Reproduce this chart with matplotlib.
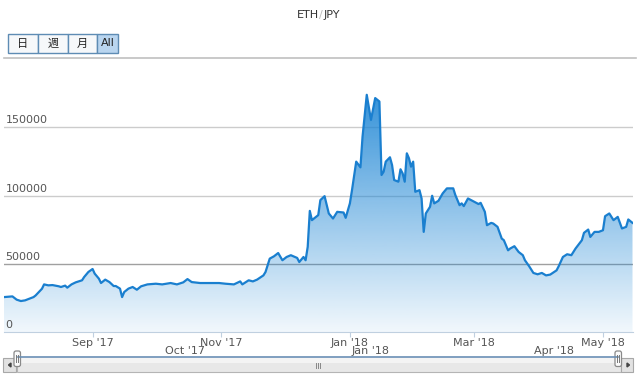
import matplotlib
matplotlib.use("Agg")
import matplotlib.pyplot as plt
import matplotlib.dates as mdates
from matplotlib.patches import Rectangle, FancyBboxPatch, Polygon
import numpy as np

# days since 2017-07-21 and ETH/JPY close
day = [0, 4, 6, 8, 10, 12, 14, 15, 18, 19, 21, 23, 26, 27, 29, 30, 32, 34, 37, 38,
       40, 42, 43, 45, 46, 48, 50, 52, 53, 55, 56, 57, 59, 61, 63, 65, 68, 72, 75, 79,
       82, 85, 87, 89, 93, 98, 102, 105, 109, 112, 113, 116, 118, 120, 123, 124, 126, 128, 130, 132,
       134, 136, 139, 140, 142, 143, 144, 145, 146, 149, 150, 152, 154, 156, 158, 161, 162, 164, 165, 167,
       169, 170, 172, 174, 176, 178, 179, 180, 181, 183, 184, 185, 187, 188, 189, 190, 191, 192, 193, 194,
       195, 197, 198, 199, 200, 202, 203, 204, 206, 208, 210, 213, 214, 216, 217, 218, 220, 223, 225, 226,
       228, 229, 231, 232, 234, 236, 237, 239, 240, 242, 244, 246, 247, 249, 251, 253, 255, 257, 259, 262,
       263, 265, 267, 269, 271, 274, 275, 277, 278, 280, 282, 284, 285, 287, 289, 291, 293, 295, 296, 298]
price = [25600, 26100, 23700, 22700, 23200, 24400, 25600, 26800, 31700, 34900, 34200, 34400, 33500, 33000, 34000, 32500, 34900, 36400, 37900, 40300,
         44000, 46200, 42800, 39100, 35900, 38400, 36600, 33700, 33700, 31800, 25600, 29300, 31800, 33000, 31000, 33500, 34900, 35400, 34900, 35900,
         34900, 36400, 38800, 36600, 35900, 35900, 35900, 35400, 34900, 37100, 34900, 37900, 37100, 38400, 41500, 44000, 53800, 55500, 57900, 52600,
         55000, 56300, 54300, 51300, 55000, 52600, 62400, 88800, 82000, 85700, 96700, 99600, 86900, 83200, 88100, 87600, 83700, 94300, 104000, 124900,
         120700, 143200, 173900, 155500, 171500, 169000, 115100, 117500, 124900, 128100, 122400, 111400, 110200, 119300, 116300, 110200, 131000, 127400, 121200, 124900,
         102800, 104000, 97900, 73400, 86900, 91800, 99900, 94300, 96200, 101600, 105300, 105300, 100400, 93000, 94300, 92300, 97900, 95400, 93800, 94700,
         88100, 78300, 80000, 79500, 77100, 68500, 67300, 59900, 61200, 62900, 58700, 56300, 52600, 48200, 43300, 42300, 43300, 41500, 42100, 45200,
         48200, 55000, 57000, 56300, 61200, 67300, 72700, 75100, 69700, 73400, 73400, 74600, 84900, 86900, 82000, 84400, 75900, 77100, 82500, 80000]

start = np.datetime64("2017-07-21")
dates = start + np.array(day).astype("timedelta64[D]")
y_ticks = [0, 50000, 100000, 150000]
y_max = 200000
buttons = ["日", "週", "月", "All"]
title = ["ETH", "/", "JPY"]

W, H = 640, 382
fig = plt.figure(figsize=(W / 100, H / 100), dpi=100)
fig.patch.set_facecolor("white")

# main plot
ax = fig.add_axes([4 / W, (H - 332) / H, 628.5 / W, 272.8 / H])
ax.set_facecolor("none")
for s in ["top", "left", "right"]:
    ax.spines[s].set_visible(False)
ax.spines["bottom"].set_color("#c0d0e0")
ax.set_yticks([])

for v in y_ticks[1:]:
    ax.axhline(v, color="#a0a0a0" if v == 50000 else "#cccccc", lw=1.0, zorder=0)
for v in y_ticks:
    ax.annotate(str(v), xy=(0, v), xycoords=("axes fraction", "data"),
                xytext=(1, 1.5), textcoords="offset points", ha="left", va="bottom",
                fontsize=8, color="#555555")

x0 = mdates.date2num(dates[0])
x1 = mdates.date2num(dates[-1])
poly = ax.fill_between(dates, price, 0, color="none", lw=0)
cmap_rgb = np.array([0x1a, 0x84, 0xd4]) / 255
alpha = np.linspace(0.06, 1.0, 256)[:, None]
grad = np.zeros((256, 1, 4))
grad[..., :3] = cmap_rgb
grad[..., 3] = alpha
img = ax.imshow(grad, extent=[x0, x1, 0, y_max], aspect="auto", origin="lower", zorder=1)
img.set_clip_path(poly.get_paths()[0], transform=ax.transData)
ax.plot(dates, price, color="#1a7fcf", lw=1.6, zorder=2, solid_joinstyle="round")

ax.set_xlim(x0, x1)
ax.set_ylim(0, y_max)
ax.xaxis.set_major_locator(mdates.MonthLocator(bymonth=[1, 3, 5, 7, 9, 11]))
ax.xaxis.set_major_formatter(mdates.DateFormatter("%b '%y"))
ax.tick_params(axis="x", direction="out", length=3.6, color="#c0d0e0", pad=1,
               labelsize=8, labelcolor="#555555")

# navigator axis labels
nav = fig.add_axes([17 / W, (H - 357) / H, 603 / W, 0.5 / H])
nav.set_xlim(x0, x1)
nav.axis("off")
nav_ticks = mdates.MonthLocator(bymonth=[1, 4, 7, 10]).tick_values(
    mdates.num2date(x0), mdates.num2date(x1))
for t in nav_ticks:
    if x0 <= t <= x1:
        nav.annotate(mdates.num2date(t).strftime("%b '%y"), xy=(t, 1),
                     xycoords=("data", "axes fraction"), xytext=(2, 0.5),
                     textcoords="offset points", ha="left", va="bottom",
                     fontsize=8, color="#555555")

# overlay in pixel units for title, buttons, scrollbar
ov = fig.add_axes([0, 0, 1, 1])
ov.set_xlim(0, W)
ov.set_ylim(H, 0)
ov.axis("off")

ov.text(318.5, 15, title[0], ha="right", va="center", fontsize=8, color="#333333")
ov.text(321, 15, title[1], ha="center", va="center", fontsize=8, color="#bbbbbb")
ov.text(323.5, 15, title[2], ha="left", va="center", fontsize=8, color="#333333")

edges = [8, 38, 68, 97, 118]
for i, b in enumerate(buttons):
    fc = "#b9d5ef" if b == "All" else "#f6f8fa"
    ov.add_patch(Rectangle((edges[i], 34), edges[i + 1] - edges[i], 19,
                           facecolor=fc, edgecolor="#5e8cb4", lw=1))
    ov.text((edges[i] + edges[i + 1]) / 2, 43.5, b, ha="center", va="center",
            fontsize=8, color="#222222", family=["DejaVu Sans", "Noto Sans CJK JP"])

ov.plot([4, 636], [57.5, 57.5], color="#c0c0c0", lw=1.2)

# scrollbar
ov.add_patch(Rectangle((17, 358), 604, 13.5, facecolor="#e8e8e8", edgecolor="#b5b5b5", lw=0.8))
ov.add_patch(Rectangle((17, 358), 604, 5, facecolor="#f4f4f4", edgecolor="none"))
for bx in [3, 621]:
    ov.add_patch(Rectangle((bx, 358), 13 if bx == 3 else 12, 13.5,
                           facecolor="#e2e2e2", edgecolor="#a8a8a8", lw=0.8))
ov.add_patch(Polygon([[8.5, 365], [11, 363], [11, 367]], closed=True, color="#444444"))
ov.add_patch(Polygon([[629.5, 365], [627, 363], [627, 367]], closed=True, color="#444444"))
for gx in [316, 318, 320]:
    ov.plot([gx, gx], [363, 368], color="#888888", lw=0.7)
ov.plot([18, 618], [357, 357], color="#6a8fb5", lw=1.2)
for hx in [14, 615]:
    ov.add_patch(FancyBboxPatch((hx, 351), 6.5, 15.5, boxstyle="round,pad=0,rounding_size=2",
                                facecolor="#fbfbfb", edgecolor="#8a8a8a", lw=0.9))
    for lx in [hx + 2.4, hx + 4.2]:
        ov.plot([lx, lx], [355, 362], color="#777777", lw=0.7)

fig.savefig("out.png", dpi=100)
